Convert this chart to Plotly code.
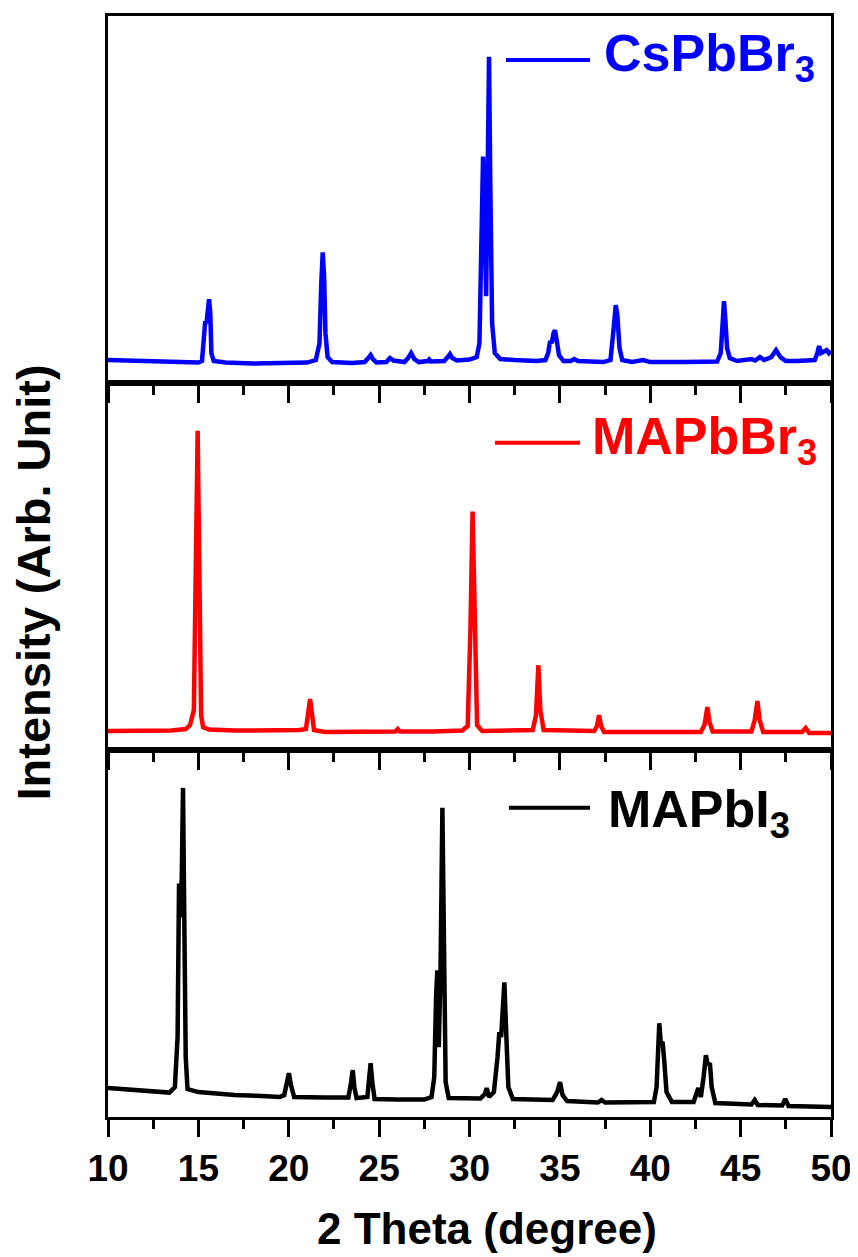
import plotly.graph_objects as go
from plotly.subplots import make_subplots

# ---------------- data (2 theta in degree, intensity in arb. units) ----------------
cs_x = [10.0, 11.0, 12.0, 13.0, 14.0, 15.0, 15.2, 15.33, 15.38, 15.45, 15.52, 15.59, 15.66, 15.72, 15.85,
        16.5, 18.0, 19.5, 21.0, 21.5, 21.7, 21.8, 21.88, 21.96, 22.03, 22.15, 22.4, 23.5, 24.2, 24.4,
        24.53, 24.66, 24.85, 25.4, 25.6, 25.8, 26.4, 26.6, 26.77, 26.95, 27.2, 27.7, 27.77, 27.85, 28.6,
        28.8, 28.92, 29.05, 29.3, 30.0, 30.4, 30.55, 30.65, 30.75, 30.85, 30.92, 31.0, 31.08, 31.15,
        31.25, 31.4, 31.7, 32.5, 33.7, 34.2, 34.35, 34.46, 34.55, 34.65, 34.73, 34.85, 34.95, 35.2,
        35.6, 35.8, 36.0, 37.4, 37.8, 37.95, 38.05, 38.09, 38.18, 38.3, 38.45, 39.0, 39.6, 40.0, 42.0,
        43.7, 43.9, 44.0, 44.08, 44.15, 44.25, 44.4, 44.8, 45.6, 45.8, 46.07, 46.3, 46.7, 46.96, 47.2,
        47.5, 48.1, 49.1, 49.25, 49.34, 49.45, 49.6, 49.76, 49.88, 50.0]
cs_y = [23, 22.5, 21.5, 21, 20.5, 20.5, 22, 50, 62, 60, 80, 84, 70, 30, 22,
        20.5, 19.5, 19.5, 20.5, 23, 40, 100, 131, 105, 50, 26, 21, 20, 21, 25,
        28, 24, 20.5, 21, 25, 22.5, 21, 25, 30, 24, 21, 22, 23.5, 21.5, 22,
        26, 29, 25, 22.5, 23.5, 26, 40, 160, 227, 150, 87, 200, 327, 200,
        60, 30, 24, 23, 22, 23, 30, 42, 40, 50, 53, 40, 28, 22,
        22, 24, 22, 21, 23, 50, 75, 78, 68, 35, 23, 21, 23, 21, 21,
        21.5, 30, 70, 82, 65, 35, 25, 22, 24, 22.5, 26, 23, 26, 33, 26,
        22, 22, 23, 30, 37, 30, 31, 33, 30, 32]

mabr_x = [10.0, 12.0, 13.5, 14.3, 14.54, 14.75, 14.88, 14.96, 15.04, 15.15, 15.26, 15.6, 17.0, 19.0,
          20.6, 20.95, 21.08, 21.18, 21.27, 21.4, 22.0, 24.0, 25.9, 26.03, 26.15, 28.0, 29.6, 29.9,
          30.05, 30.17, 30.28, 30.42, 30.7, 32.5, 33.5, 33.68, 33.81, 33.92, 34.1, 36.9, 37.05, 37.17,
          37.28, 37.45, 42.8, 43.0, 43.16, 43.28, 43.45, 45.6, 45.78, 45.93, 46.05, 46.25, 48.4, 48.6,
          48.8, 50.0]
mabr_y = [19, 19.5, 19.5, 21, 25, 40, 200, 320, 200, 35, 23, 20.5, 19.5, 19.5,
          20, 21, 38, 51, 38, 20, 18, 18, 18.5, 21, 18.5, 18.5, 19.5, 24,
          120, 239, 120, 25, 19, 19, 20, 35, 85, 40, 20, 19, 24, 35,
          24, 18, 18, 25, 43, 28, 18.5, 18.5, 30, 49, 30, 18, 18, 22,
          17, 17]

mai_x = [10.0, 11.0, 12.0, 13.0, 13.4, 13.7, 13.85, 13.93, 14.0, 14.08, 14.15, 14.22, 14.3, 14.4,
         15.0, 16.0, 17.0, 18.5, 19.5, 19.75, 19.9, 20.01, 20.12, 20.3, 22.0, 23.3, 23.45, 23.54,
         23.63, 23.75, 24.35, 24.45, 24.53, 24.62, 24.75, 26.0, 27.5, 27.9, 28.05, 28.15, 28.22,
         28.3, 28.4, 28.5, 28.58, 28.68, 28.85, 30.6, 30.85, 30.95, 31.08, 31.35, 31.55, 31.65,
         31.75, 31.85, 31.93, 32.02, 32.15, 32.4, 34.6, 34.85, 35.01, 35.15, 35.4, 37.1, 37.31,
         37.5, 40.2, 40.35, 40.45, 40.5, 40.58, 40.69, 40.78, 40.9, 41.2, 42.4, 42.66, 42.8, 42.95,
         43.08, 43.18, 43.3, 43.4, 43.6, 45.6, 45.78, 45.95, 47.3, 47.47, 47.65, 50.0]
mai_y = [29, 27.5, 26, 24.5, 24.5, 30, 80, 234, 200, 240, 330, 200, 60, 28,
         25, 23.5, 22, 21, 20, 22, 35, 44, 32, 20, 19.5, 19.5, 35, 47,
         30, 19, 20, 40, 54, 35, 18, 17.5, 17.5, 20, 40, 120, 147,
         70, 150, 310, 150, 35, 19, 18.5, 23, 29, 20, 25, 60, 85,
         80, 120, 135, 90, 30, 18, 17, 25, 35, 22, 16, 14.5, 17,
         14.5, 15, 30, 80, 94, 75, 74, 55, 25, 15, 15, 29, 20, 40,
         62, 52, 54, 30, 14, 12.5, 17, 12, 11.5, 18, 11, 10]

series_names = ["CsPbBr<sub>3</sub>", "MAPbBr<sub>3</sub>", "MAPbI<sub>3</sub>"]
series_colors = ["#0000FF", "#FF0000", "#000000"]
x_ticks = [10, 15, 20, 25, 30, 35, 40, 45, 50]
x_title = "2 Theta (degree)"
y_title = "Intensity (Arb. Unit)"

FONT = "Liberation Sans, Arial, sans-serif"

fig = make_subplots(rows=3, cols=1, shared_xaxes=True, vertical_spacing=0)

data = [(cs_x, cs_y), (mabr_x, mabr_y), (mai_x, mai_y)]
for i, ((xs, ys), name, col) in enumerate(zip(data, series_names, series_colors)):
    fig.add_trace(go.Scatter(x=xs, y=ys, mode="lines", name=name,
                             line=dict(color=col, width=4.5), showlegend=False),
                  row=i + 1, col=1)

for r in (1, 2, 3):
    fig.update_xaxes(range=[10, 50], tickvals=x_ticks, ticks="outside", ticklen=17, tickwidth=3,
                     tickcolor="black", showline=True, linewidth=3, linecolor="black", mirror=True,
                     showgrid=False, zeroline=False,
                     minor=dict(dtick=2.5, tick0=10, ticks="outside", ticklen=9, tickwidth=3,
                                tickcolor="black", showgrid=False),
                     tickfont=dict(family=FONT, size=37, color="black", weight="bold"),
                     row=r, col=1)
    fig.update_yaxes(range=[0, 368], showticklabels=False, ticks="", showline=True, linewidth=3,
                     linecolor="black", mirror=True, showgrid=False, zeroline=False, row=r, col=1)

# legend-like labels
leg = [
    (0.5505, 0.6667, 0.9601, 0.6833, 0.9625),
    (0.5353, 0.6528, 0.6123, 0.6667, 0.6148),
    (0.5546, 0.6667, 0.2808, 0.6888, 0.2765),
]
for (x0, x1, yl, xt, yt), name, col in zip(leg, series_names, series_colors):
    fig.add_shape(type="line", xref="paper", yref="paper", x0=x0, x1=x1, y0=yl, y1=yl,
                  line=dict(color=col, width=4))
    fig.add_annotation(xref="paper", yref="paper", x=xt, y=yt, xanchor="left", yanchor="middle",
                       text=name, showarrow=False,
                       font=dict(family=FONT, size=52, color=col, weight="bold"))

fig.add_annotation(xref="paper", yref="paper", x=0.524, y=-0.1015, xanchor="center", yanchor="middle",
                   text=x_title, showarrow=False,
                   font=dict(family=FONT, size=44, color="black", weight="bold"))
fig.add_annotation(xref="paper", yref="paper", x=-0.1037, y=0.4855, xanchor="center", yanchor="middle",
                   text=y_title, textangle=-90, showarrow=False,
                   font=dict(family=FONT, size=47, color="black", weight="bold"))

# the page body adds an 8px offset; the figure is sized/margined to compensate
fig.update_layout(width=850, height=1249, margin=dict(l=100, r=27, t=5, b=140),
                  paper_bgcolor="white", plot_bgcolor="white", showlegend=False)

fig.write_html("out.html")
